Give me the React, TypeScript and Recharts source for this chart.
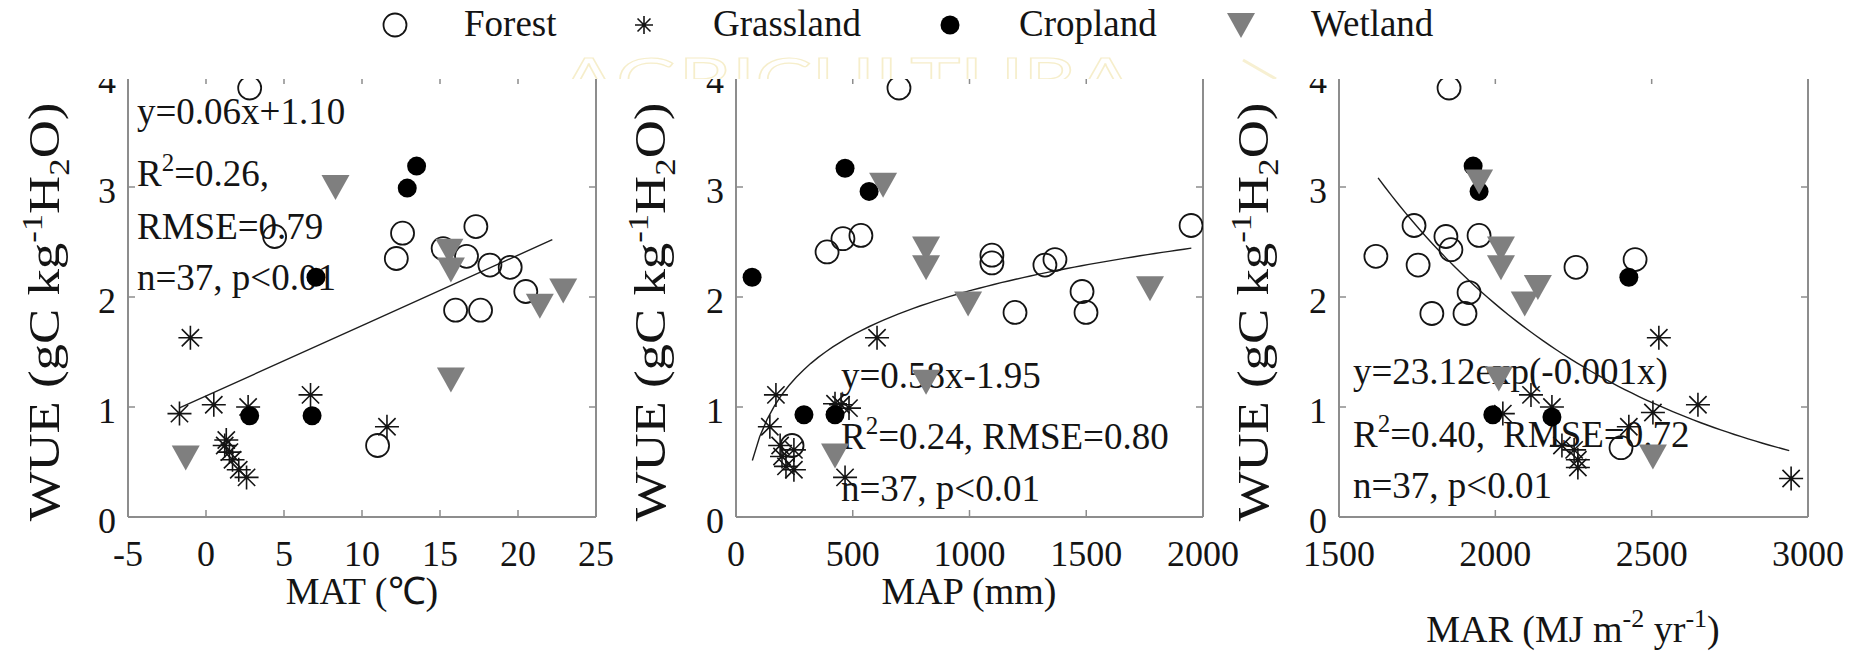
import React from 'react';
import { ScatterChart, Scatter, XAxis, YAxis, ReferenceLine } from 'recharts';

type Pt = { x: number; y: number };

const FONT = '"Liberation Serif", "Times New Roman", Times, serif';
const INK = '#141414';
const FRAME = '#8d8d8d';
const WET = '#7f7f7f';

// ---------- WUE vs mean annual temperature (MAT, °C) ----------
const matForest: Pt[] = [
  { x: 2.8, y: 3.9 }, { x: 12.6, y: 2.58 }, { x: 12.2, y: 2.35 }, { x: 17.3, y: 2.64 },
  { x: 4.4, y: 2.55 }, { x: 15.2, y: 2.44 }, { x: 16.7, y: 2.37 }, { x: 18.2, y: 2.29 },
  { x: 19.5, y: 2.27 }, { x: 20.5, y: 2.05 }, { x: 16.0, y: 1.88 }, { x: 17.6, y: 1.88 },
  { x: 11.0, y: 0.65 },
];
const matGrass: Pt[] = [
  { x: -1.0, y: 1.63 }, { x: -1.7, y: 0.94 }, { x: 0.5, y: 1.02 }, { x: 2.7, y: 1.0 },
  { x: 6.7, y: 1.11 }, { x: 11.6, y: 0.82 }, { x: 1.2, y: 0.65 }, { x: 1.3, y: 0.7 },
  { x: 1.5, y: 0.59 }, { x: 1.7, y: 0.52 }, { x: 2.1, y: 0.43 }, { x: 2.6, y: 0.36 },
];
const matCrop: Pt[] = [
  { x: 13.5, y: 3.19 }, { x: 12.9, y: 2.99 }, { x: 7.05, y: 2.18 }, { x: 2.8, y: 0.92 }, { x: 6.8, y: 0.92 },
];
const matWet: Pt[] = [
  { x: 8.3, y: 3.0 }, { x: 15.6, y: 2.42 }, { x: 15.7, y: 2.25 }, { x: 21.4, y: 1.92 },
  { x: 22.9, y: 2.06 }, { x: 15.7, y: 1.25 }, { x: -1.3, y: 0.54 },
];

// ---------- WUE vs mean annual precipitation (MAP, mm) ----------
const mapForest: Pt[] = [
  { x: 698, y: 3.9 }, { x: 390, y: 2.41 }, { x: 458, y: 2.53 }, { x: 535, y: 2.56 },
  { x: 1096, y: 2.38 }, { x: 1096, y: 2.31 }, { x: 1323, y: 2.29 }, { x: 1366, y: 2.34 },
  { x: 1482, y: 2.05 }, { x: 1499, y: 1.86 }, { x: 1195, y: 1.86 }, { x: 1949, y: 2.65 },
  { x: 240, y: 0.65 },
];
const mapGrass: Pt[] = [
  { x: 604, y: 1.63 }, { x: 171, y: 1.11 }, { x: 145, y: 0.82 }, { x: 450, y: 1.02 },
  { x: 484, y: 0.99 }, { x: 424, y: 1.03 }, { x: 189, y: 0.65 }, { x: 248, y: 0.61 },
  { x: 197, y: 0.55 }, { x: 214, y: 0.46 }, { x: 248, y: 0.43 }, { x: 467, y: 0.36 },
];
const mapCrop: Pt[] = [
  { x: 69, y: 2.18 }, { x: 467, y: 3.17 }, { x: 570, y: 2.96 }, { x: 291, y: 0.93 }, { x: 424, y: 0.93 },
];
const mapWet: Pt[] = [
  { x: 630, y: 3.02 }, { x: 814, y: 2.44 }, { x: 814, y: 2.27 }, { x: 994, y: 1.94 },
  { x: 1773, y: 2.08 }, { x: 814, y: 1.23 }, { x: 424, y: 0.56 },
];

// ---------- WUE vs mean annual radiation (MAR, MJ m-2 yr-1) ----------
const marForest: Pt[] = [
  { x: 1852, y: 3.9 }, { x: 1740, y: 2.65 }, { x: 1842, y: 2.55 }, { x: 1948, y: 2.56 },
  { x: 1858, y: 2.43 }, { x: 1618, y: 2.37 }, { x: 1753, y: 2.29 }, { x: 2258, y: 2.27 },
  { x: 2447, y: 2.34 }, { x: 1916, y: 2.04 }, { x: 1797, y: 1.85 }, { x: 1903, y: 1.85 },
  { x: 2402, y: 0.63 },
];
const marGrass: Pt[] = [
  { x: 2523, y: 1.63 }, { x: 2114, y: 1.11 }, { x: 2024, y: 0.94 }, { x: 2181, y: 1.0 },
  { x: 2504, y: 0.95 }, { x: 2648, y: 1.02 }, { x: 2427, y: 0.82 }, { x: 2213, y: 0.65 },
  { x: 2252, y: 0.61 }, { x: 2264, y: 0.52 }, { x: 2264, y: 0.45 }, { x: 2946, y: 0.35 },
];
const marCrop: Pt[] = [
  { x: 1929, y: 3.19 }, { x: 1948, y: 2.96 }, { x: 2427, y: 2.18 }, { x: 1992, y: 0.93 }, { x: 2181, y: 0.91 },
];
const marWet: Pt[] = [
  { x: 1948, y: 3.05 }, { x: 2018, y: 2.44 }, { x: 2018, y: 2.27 }, { x: 2136, y: 2.09 },
  { x: 2094, y: 1.94 }, { x: 2011, y: 1.26 }, { x: 2504, y: 0.55 },
];

// ---------- axes ----------
const wueTicks = [0, 1, 2, 3, 4];
const matTicks = [-5, 0, 5, 10, 15, 20, 25];
const mapTicks = [0, 500, 1000, 1500, 2000];
const marTicks = [1500, 2000, 2500, 3000];

// ---------- fitted models (coefficients as reported in the panels) ----------
const MAT_FIT = { slope: 0.064, intercept: 1.1, from: -1.7, to: 22.2 };
const MAP_FIT = { a: 0.58, b: -1.95, from: 70, to: 1950 };
const MAR_FIT = { a: 23.12, k: 0.00124, from: 1625, to: 2940 };

const sample = (from: number, to: number, f: (x: number) => number, n = 60): Pt[] =>
  Array.from({ length: n + 1 }, (_, i) => {
    const x = from + ((to - from) * i) / n;
    return { x, y: f(x) };
  });

const matFit = sample(MAT_FIT.from, MAT_FIT.to, (x) => MAT_FIT.slope * x + MAT_FIT.intercept, 2);
const mapFit = sample(MAP_FIT.from, MAP_FIT.to, (x) => MAP_FIT.a * Math.log(x) + MAP_FIT.b);
const marFit = sample(MAR_FIT.from, MAR_FIT.to, (x) => MAR_FIT.a * Math.exp(-MAR_FIT.k * x));

// ---------- layout ----------
const W = 1863;
const H = 653;
const PLOT_TOP = 77;
const PLOT_BOTTOM = 517;
const TICK_LEN = 7;
const HEADER = 79;

type Panel = {
  id: string;
  left: number;
  width: number;
  plotLeft: number;
  plotRight: number;
  domain: [number, number];
  ticks: number[];
  forest: Pt[];
  grass: Pt[];
  crop: Pt[];
  wet: Pt[];
  fit: Pt[];
};

const panels: Panel[] = [
  { id: 'mat', left: 0, width: 640, plotLeft: 128, plotRight: 596, domain: [-5, 25], ticks: matTicks,
    forest: matForest, grass: matGrass, crop: matCrop, wet: matWet, fit: matFit },
  { id: 'map', left: 640, width: 610, plotLeft: 736, plotRight: 1203, domain: [0, 2000], ticks: mapTicks,
    forest: mapForest, grass: mapGrass, crop: mapCrop, wet: mapWet, fit: mapFit },
  { id: 'mar', left: 1250, width: 613, plotLeft: 1339, plotRight: 1808, domain: [1500, 3000], ticks: marTicks,
    forest: marForest, grass: marGrass, crop: marCrop, wet: marWet, fit: marFit },
];

// ---------- markers ----------
const asteriskPath = (cx: number, cy: number, r: number) => {
  const d = r * 0.72;
  return `M${cx - r},${cy}H${cx + r}M${cx},${cy - r}V${cy + r}M${cx - d},${cy - d}L${cx + d},${cy + d}M${cx - d},${cy + d}L${cx + d},${cy - d}`;
};
const ForestMark = ({ cx, cy }: any) => (
  <circle cx={cx} cy={cy} r={11.5} fill="none" stroke={INK} strokeWidth={1.8} />
);
const GrassMark = ({ cx, cy }: any) => (
  <path d={asteriskPath(cx, cy, 12)} stroke={INK} strokeWidth={1.6} fill="none" />
);
const CropMark = ({ cx, cy }: any) => <circle cx={cx} cy={cy} r={9.5} fill="#000" />;
const WetMark = ({ cx, cy }: any) => (
  <path d={`M${cx - 14},${cy - 12}H${cx + 14}L${cx},${cy + 13}Z`} fill={WET} />
);
const NoMark = () => <g />;

// ---------- ticks (inward tick marks, labels outside) ----------
const XTick = ({ x, y, payload }: any) => (
  <g>
    <line x1={x} y1={y} x2={x} y2={y - TICK_LEN} stroke={FRAME} strokeWidth={1.5} />
    <text x={x} y={y + 49} textAnchor="middle" fontFamily={FONT} fontSize={36} fill={INK}>
      {payload.value}
    </text>
  </g>
);
const YTick = ({ x, y, payload }: any) => (
  <g>
    <line x1={x} y1={y} x2={x + TICK_LEN} y2={y} stroke={FRAME} strokeWidth={1.5} />
    <text x={x - 12} y={y + 16} textAnchor="end" fontFamily={FONT} fontSize={36} fill={INK}>
      {payload.value}
    </text>
  </g>
);

const PanelChart = ({ p }: { p: Panel }) => {
  const plotW = p.plotRight - p.plotLeft;
  const plotH = PLOT_BOTTOM - PLOT_TOP;
  const [x0, x1] = p.domain;
  const dx = ((x1 - x0) * TICK_LEN) / plotW;
  const dy = (4 * TICK_LEN) / plotH;
  const frame = { stroke: FRAME, strokeWidth: 1.5, ifOverflow: 'visible' as const };
  return (
    <ScatterChart
      width={p.width}
      height={H}
      margin={{ top: PLOT_TOP, bottom: 0, left: 0, right: p.left + p.width - p.plotRight }}
    >
      <XAxis
        type="number"
        dataKey="x"
        domain={p.domain}
        ticks={p.ticks}
        interval={0}
        allowDataOverflow
        height={H - PLOT_BOTTOM}
        tickSize={0}
        tickMargin={0}
        tickLine={false}
        axisLine={{ stroke: FRAME, strokeWidth: 2 }}
        tick={(props: any) => <XTick {...props} />}
      />
      <YAxis
        type="number"
        dataKey="y"
        domain={[0, 4]}
        ticks={wueTicks}
        interval={0}
        allowDataOverflow
        width={p.plotLeft - p.left}
        tickSize={0}
        tickMargin={0}
        tickLine={false}
        axisLine={{ stroke: FRAME, strokeWidth: 2 }}
        tick={(props: any) => <YTick {...props} />}
      />
      <ReferenceLine x={x1} stroke={FRAME} strokeWidth={2} ifOverflow="visible" />
      <ReferenceLine y={4} stroke={FRAME} strokeWidth={2} ifOverflow="visible" />
      {wueTicks.map((t) => (
        <ReferenceLine key={`r${t}`} segment={[{ x: x1, y: t }, { x: x1 - dx, y: t }]} {...frame} />
      ))}
      {p.ticks.map((t) => (
        <ReferenceLine key={`t${t}`} segment={[{ x: t, y: 4 }, { x: t, y: 4 - dy }]} {...frame} />
      ))}
      <Scatter data={p.fit} line={{ stroke: '#1e1e1e', strokeWidth: 1.4 }} lineType="joint" shape={NoMark} isAnimationActive={false} />
      <Scatter data={p.forest} shape={ForestMark} isAnimationActive={false} />
      <Scatter data={p.grass} shape={GrassMark} isAnimationActive={false} />
      <Scatter data={p.crop} shape={CropMark} isAnimationActive={false} />
      <Scatter data={p.wet} shape={WetMark} isAnimationActive={false} />
    </ScatterChart>
  );
};

// ---------- titles ----------
const WueTitle = ({ x }: { x: number }) => (
  <text
    transform={`translate(${x} 312) rotate(-90) scale(1.2 1)`}
    textAnchor="middle"
    fontFamily={FONT}
    fontSize={44}
    fill={INK}
  >
    <tspan>WUE (gC kg</tspan>
    <tspan dy={-17} fontSize={29}>-1</tspan>
    <tspan dy={17}>H</tspan>
    <tspan dy={10} fontSize={29}>2</tspan>
    <tspan dy={-10}>O)</tspan>
  </text>
);

const statStyle = { fontFamily: FONT, fontSize: 37, fill: INK };

const RSquared = ({ x, y, value, rest }: { x: number; y: number; value: string; rest?: string }) => (
  <text x={x} y={y} {...statStyle}>
    <tspan>R</tspan>
    <tspan dy={-15} fontSize={25}>2</tspan>
    <tspan dy={15}>{value}</tspan>
    {rest ? <tspan dx={18}>{rest}</tspan> : null}
  </text>
);

export default function App() {
  return (
    <div style={{ position: 'relative', width: W, height: H, background: '#fff', overflow: 'hidden' }}>
      <style>{'body{margin:0}'}</style>

      {/* titles and regression statistics, drawn beneath the markers */}
      <svg width={W} height={H} style={{ position: 'absolute', left: 0, top: 0, zIndex: 0 }}>
        <WueTitle x={59} />
        <WueTitle x={665} />
        <WueTitle x={1268} />

        <text x={362} y={604} textAnchor="middle" fontFamily={FONT} fontSize={38} fill={INK}>
          MAT (℃)
        </text>
        <text x={969} y={604} textAnchor="middle" fontFamily={FONT} fontSize={38} fill={INK}>
          MAP (mm)
        </text>
        <text x={1573} y={642} textAnchor="middle" fontFamily={FONT} fontSize={38} fill={INK}>
          <tspan>MAR (MJ m</tspan>
          <tspan dy={-15} fontSize={26}>-2</tspan>
          <tspan dy={15}> yr</tspan>
          <tspan dy={-15} fontSize={26}>-1</tspan>
          <tspan dy={15}>)</tspan>
        </text>

        <text x={137} y={124} {...statStyle}>y=0.06x+1.10</text>
        <RSquared x={137} y={186} value="=0.26," />
        <text x={137} y={239} {...statStyle}>RMSE=0.79</text>
        <text x={137} y={290} {...statStyle}>n=37, p&lt;0.01</text>

        <text x={841} y={388} {...statStyle}>y=0.58x-1.95</text>
        <RSquared x={841} y={449} value="=0.24, RMSE=0.80" />
        <text x={841} y={501} {...statStyle}>n=37, p&lt;0.01</text>

        <text x={1353} y={384} {...statStyle}>y=23.12exp(-0.001x)</text>
        <RSquared x={1353} y={447} value="=0.40," rest="RMSE=0.72" />
        <text x={1353} y={498} {...statStyle}>n=37, p&lt;0.01</text>
      </svg>

      {panels.map((p) => (
        <div key={p.id} style={{ position: 'absolute', left: p.left, top: 0, zIndex: 1 }}>
          <PanelChart p={p} />
        </div>
      ))}

      {/* header band above the plotting frames */}
      <div style={{ position: 'absolute', left: 0, top: 0, width: W, height: HEADER, background: '#fff', zIndex: 2 }} />

      <svg width={W} height={HEADER} style={{ position: 'absolute', left: 0, top: 0, zIndex: 3 }}>
        <text
          x={560}
          y={101}
          textLength={574}
          lengthAdjust="spacingAndGlyphs"
          fontFamily="Lato, 'Open Sans', sans-serif"
          fontSize={60}
          fill="none"
          stroke="#f6eecb"
          strokeWidth={1.2}
        >
          AGRICULTURA
        </text>
        <path d="M1243,60 L1276,79" stroke="#f7f0d2" strokeWidth={3} fill="none" />

        <ForestMark cx={395} cy={25} />
        <text x={464} y={36} fontFamily={FONT} fontSize={37} fill={INK}>Forest</text>
        <path d={asteriskPath(644, 25, 9)} stroke={INK} strokeWidth={1.6} fill="none" />
        <text x={713} y={36} fontFamily={FONT} fontSize={37} fill={INK}>Grassland</text>
        <CropMark cx={950} cy={25} />
        <text x={1019} y={36} fontFamily={FONT} fontSize={37} fill={INK}>Cropland</text>
        <WetMark cx={1241} cy={25} />
        <text x={1311} y={36} fontFamily={FONT} fontSize={37} fill={INK}>Wetland</text>
      </svg>
    </div>
  );
}
